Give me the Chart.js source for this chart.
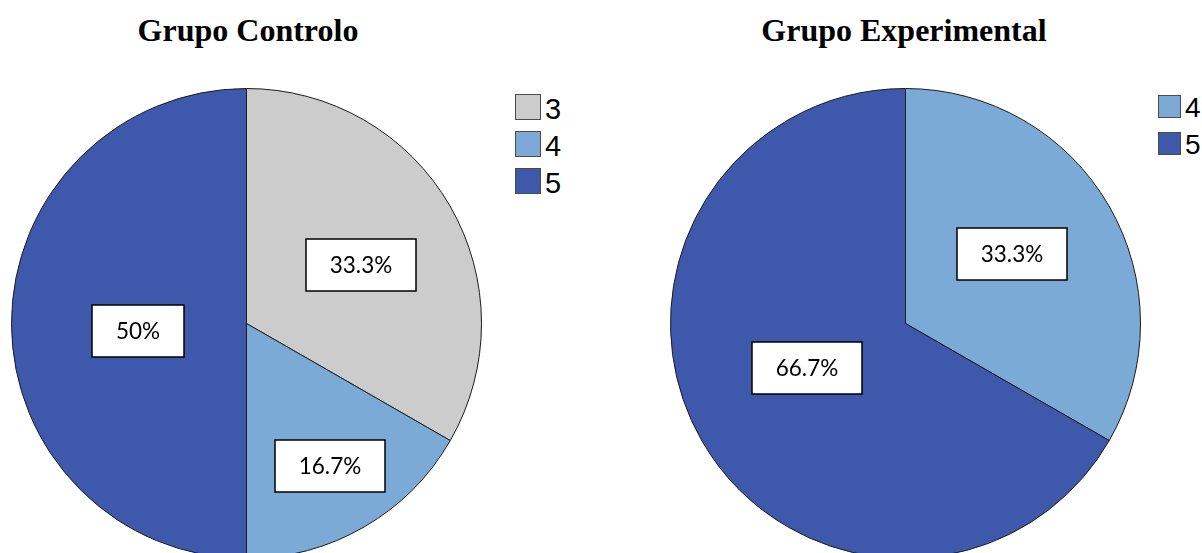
<!DOCTYPE html>
<html>
<head>
<meta charset="utf-8">
<script src="https://cdn.jsdelivr.net/npm/chart.js@4.4.1/dist/chart.umd.min.js"></script>
<style>
  html, body { margin: 0; padding: 0; background: #fff; }
  body { width: 1202px; height: 553px; overflow: hidden; position: relative; }
  .title {
    position: absolute; top: 12px; line-height: 33px; white-space: nowrap;
    font: bold 32px "Liberation Serif", "Times New Roman", serif; color: #000;
    transform: translateX(-50%);
  }
  .pie { position: absolute; }
  .legend-item { position: absolute; height: 30px; }
  .legend-item .sw { position: absolute; left: 0; top: 0; box-sizing: border-box; border: 1px solid #4a4a4a; }
  .legend-item .tx {
    position: absolute; top: 0; white-space: nowrap;
    font-family: "Liberation Sans", Arial, sans-serif; color: #000;
  }
</style>
</head>
<body>
<div class="title" style="left:248px">Grupo Controlo</div>
<div class="title" style="left:904px">Grupo Experimental</div>
<canvas id="pieControlo" class="pie" width="471" height="471" style="left:11px;top:88px"></canvas>
<canvas id="pieExperimental" class="pie" width="471" height="471" style="left:670px;top:88px"></canvas>
<div id="legControlo"></div>
<div id="legExperimental"></div>
<script>
// Score categories and the percentage of each group that gave them
const controloLabels = ['3', '4', '5'];
const controloValues = [33.3, 16.7, 50];
const experimentalLabels = ['4', '5'];
const experimentalValues = [33.3, 66.7];

// Fill colour for each score
const scoreColors = { '3': '#CCCCCC', '4': '#7BAAD7', '5': '#3E58AB' };

// White boxed percentage labels placed near each slice's middle angle
const boxLabels = {
  id: 'boxLabels',
  afterDatasetsDraw(chart, args, opts) {
    const ctx = chart.ctx;
    const meta = chart.getDatasetMeta(0);
    const values = chart.data.datasets[0].data;
    ctx.save();
    ctx.font = opts.font;
    meta.data.forEach((arc, i) => {
      const p = arc.getProps(['x', 'y', 'startAngle', 'endAngle', 'outerRadius'], true);
      const ang = (p.startAngle + p.endAngle) / 2 + opts.turn[i] * Math.PI / 180;
      const f = opts.radial[i];
      const cx = p.x + Math.cos(ang) * p.outerRadius * f;
      const cy = p.y + Math.sin(ang) * p.outerRadius * f;
      const text = String(values[i]) + '%';
      const w = Math.round(ctx.measureText(text).width + 2 * opts.padX);
      const h = opts.boxH;
      const bx = Math.round(cx - w / 2), by = Math.round(cy - h / 2);
      ctx.fillStyle = '#fff';
      ctx.fillRect(bx, by, w, h);
      ctx.strokeStyle = '#000';
      ctx.lineWidth = 1.5;
      ctx.strokeRect(bx, by, w, h);
      ctx.fillStyle = '#000';
      ctx.textAlign = 'center';
      ctx.textBaseline = 'middle';
      ctx.fillText(text, bx + w / 2, by + h / 2 + 1);
    });
    ctx.restore();
  }
};

function makePie(id, labels, values, radial, turn) {
  return new Chart(document.getElementById(id), {
    type: 'pie',
    data: {
      labels: labels,
      datasets: [{
        data: values,
        backgroundColor: labels.map(l => scoreColors[l]),
        borderColor: '#1b1b1b',
        borderWidth: 1
      }]
    },
    options: {
      responsive: false,
      animation: false,
      devicePixelRatio: 1,
      layout: { padding: 0 },
      plugins: {
        legend: { display: false },
        tooltip: { enabled: false },
        boxLabels: { radial: radial, turn: turn, font: '22.5px Lato, "Open Sans", sans-serif', padX: 24, boxH: 52 }
      }
    },
    plugins: [boxLabels]
  });
}

function makeLegend(id, labels, left, top, box, fontPx) {
  const host = document.getElementById(id);
  labels.forEach((l, i) => {
    const item = document.createElement('div');
    item.className = 'legend-item';
    item.style.left = left + 'px';
    item.style.top = (top + i * 37) + 'px';
    const sw = document.createElement('div');
    sw.className = 'sw';
    sw.style.width = box + 'px';
    sw.style.height = box + 'px';
    sw.style.background = scoreColors[l];
    const tx = document.createElement('div');
    tx.className = 'tx';
    tx.style.left = (box + 4) + 'px';
    tx.style.fontSize = fontPx + 'px';
    tx.style.lineHeight = fontPx + 'px';
    tx.style.top = (box - fontPx * 0.85) + 'px';
    tx.textContent = l;
    item.appendChild(sw);
    item.appendChild(tx);
    host.appendChild(item);
  });
}

makePie('pieControlo', controloLabels, controloValues, [0.547, 0.703, 0.463], [2.9, -0.4, -4]);
makePie('pieExperimental', experimentalLabels, experimentalValues, [0.541, 0.46], [-3.1, 5.7]);
makeLegend('legControlo', controloLabels, 515, 94, 26, 29);
makeLegend('legExperimental', experimentalLabels, 1158, 95, 23, 28);
</script>
</body>
</html>
